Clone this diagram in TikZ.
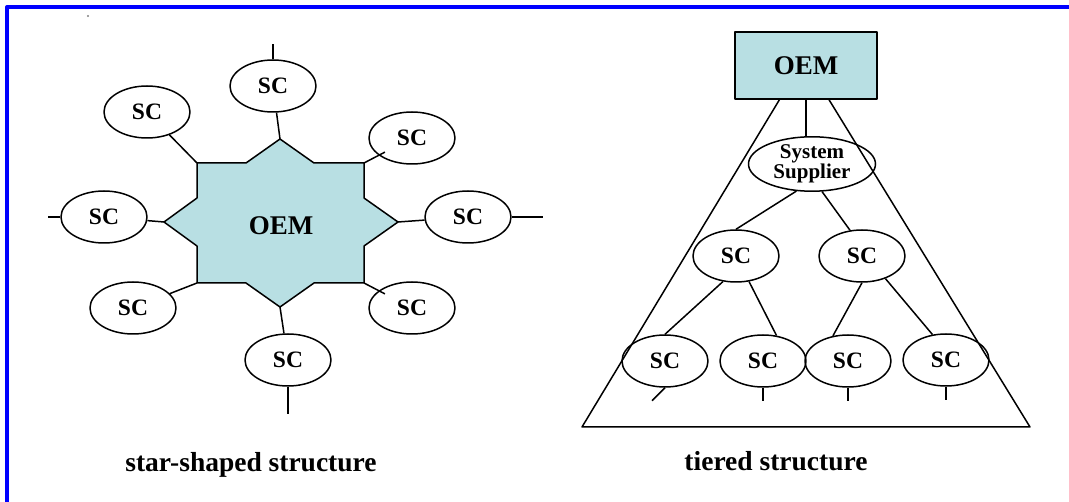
\documentclass[tikz,border=0pt]{standalone}
\usepackage{fontspec}
\setmainfont{Liberation Serif}
\usetikzlibrary{shapes.geometric}
\definecolor{oemfill}{HTML}{B8DFE3}
\definecolor{frameblue}{HTML}{0000FF}
\tikzset{
  link/.style={line width=1.5pt},
  sc/.style={ellipse, draw, link, minimum width=86pt, minimum height=52pt,
    inner sep=0pt, font=\fontsize{23.5}{23.5}\selectfont\bfseries},
  oemtext/.style={inner sep=0pt, font=\fontsize{27}{27}\selectfont\bfseries},
  caption/.style={anchor=base, font=\fontsize{27.5}{30}\selectfont\bfseries},
}

\begin{document}
\begin{tikzpicture}[x=1pt, y=-1pt, line join=round]

  \useasboundingbox (0,0) rectangle (1069,502);
  \draw[frameblue, line width=4pt] (7,502) -- (7,7) -- (1069,7);
  \fill[gray] (88,16) circle (1.2pt);

  % star-shaped structure
  \coordinate (oem-nw) at (197,163);
  \coordinate (oem-n)  at (280,139);
  \coordinate (oem-ne) at (364,163);
  \coordinate (oem-e)  at (398,222);
  \coordinate (oem-se) at (364,283);
  \coordinate (oem-s)  at (280,307);
  \coordinate (oem-sw) at (197,283);
  \coordinate (oem-w)  at (164,222);
  \draw[link, fill=oemfill]
  (oem-nw) -- (246,163) -- (oem-n) -- (314,163) -- (oem-ne)
  -- (364,198) -- (oem-e) -- (364,246) -- (oem-se)
  -- (314,283) -- (oem-s) -- (246,283) -- (oem-sw)
  -- (197,246) -- (oem-w) -- (197,198) -- cycle;
  \node[oemtext] (oem) at (281,226) {OEM};

  \node[sc] (scN)  at (273,86)  {SC};
  \node[sc] (scNW) at (147,112) {SC};
  \node[sc] (scNE) at (412,138) {SC};
  \node[sc] (scW)  at (104,217) {SC};
  \node[sc] (scE)  at (468,217) {SC};
  \node[sc] (scSW) at (133,308) {SC};
  \node[sc] (scSE) at (412,308) {SC};
  \node[sc] (scS)  at (288,360) {SC};

  \draw[link] (scN) -- (oem-n);
  \draw[link] (scN.north) -- ++(0,-15);
  \draw[link] (scNW) -- (oem-nw);
  \draw[link, shorten >=-7pt] (oem-ne) -- (scNE);
  \draw[link] (scW) -- (oem-w);
  \draw[link] (scW.west) -- ++(-12,0);
  \draw[link] (oem-e) -- (scE);
  \draw[link] (scE.east) -- ++(31,0);
  \draw[link] (scSW) -- (oem-sw);
  \draw[link, shorten >=-7pt] (oem-se) -- (scSE);
  \draw[link] (oem-s) -- (scS);
  \draw[link] (scS.south) -- ++(0,27);

  \node[caption] (cap-star) at (251,472) {star-shaped structure};

  % tiered structure
  \coordinate (tri-top) at (804,59);
  \coordinate (tri-l)   at (582,427);
  \coordinate (tri-r)   at (1030,427);
  \draw[link] (tri-top) -- (tri-l) -- (tri-r) -- cycle;

  \node[draw, link, fill=oemfill, minimum width=142pt, minimum height=67pt,
    font=\fontsize{27}{27}\selectfont\bfseries] (top) at (806,65.5) {OEM};
  \node[sc, minimum width=127pt, minimum height=54pt, align=center,
    font=\fontsize{21}{16}\selectfont\bfseries] (sys) at (812,164) {System\\Supplier};

  \node[sc] (midL) at (736,256) {SC};
  \node[sc] (midR) at (862,256) {SC};
  \node[sc] (low1) at (665,361) {SC};
  \node[sc] (low2) at (763,361) {SC};
  \node[sc] (low3) at (848,361) {SC};
  \node[sc] (low4) at (946,360) {SC};

  \draw[link] (top) -- (top |- sys.north);
  \draw[link] (sys.240) -- (midL.north);
  \draw[link] (sys.290) -- (midR.115);
  \draw[link] (midL.243) -- (low1.north);
  \draw[link] (midL.297) -- (low2.62);
  \draw[link] (midR.south) -- (low3.121);
  \draw[link] (midR.316) -- (low4.118);
  \draw[link] (low1.south) -- ++(-13,13);
  \draw[link] (low2.south) -- ++(0,13);
  \draw[link] (low3.south) -- ++(0,13);
  \draw[link] (low4.south) -- ++(0,13);

  \node[caption] (cap-tier) at (776,471) {tiered structure};

\end{tikzpicture}
\end{document}
